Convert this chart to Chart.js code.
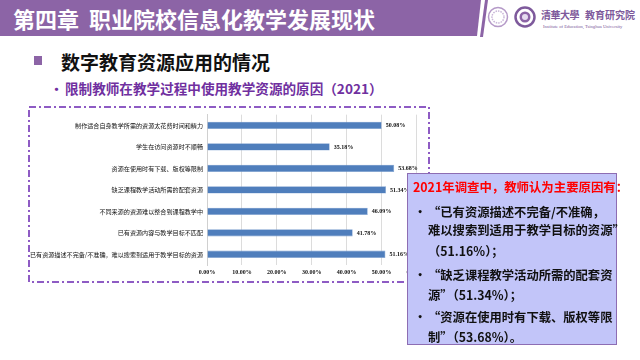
<!DOCTYPE html>
<html><head><meta charset="utf-8">
<script src="https://cdn.jsdelivr.net/npm/chart.js@4/dist/chart.umd.min.js"></script>
<style>
html,body{margin:0;padding:0;background:#fff;}
#page{position:relative;width:640px;height:360px;overflow:hidden;background:#fff;font-family:"Noto Sans CJK SC","Noto Sans",sans-serif;}
.abs{position:absolute;white-space:nowrap;}
#chartWrap{position:absolute;left:30px;top:107px;width:400px;height:175px;}
#box{position:absolute;left:407px;top:173px;width:210px;height:172px;background:#C2C5F9;border:1px solid #8D6DB3;box-sizing:border-box;}
.bl{position:absolute;font-weight:700;font-size:12.3px;color:#111;line-height:16px;white-space:nowrap;}
</style></head>
<body><div id="page">
<svg class="abs" style="left:0;top:0" width="640" height="360">
  <polygon points="0,0 481,0 477,36 0,36" fill="#8C64A6"/>
  <polygon points="485,0 488,0 483,37 480,37" fill="#8C64A6"/>
  <circle cx="498" cy="17" r="9.5" fill="#fff" stroke="#B59AC8" stroke-width="1.5"/>
  <circle cx="498" cy="17" r="6" fill="none" stroke="#C9B6D8" stroke-width="1.5" stroke-dasharray="1.5 1"/>
  <circle cx="525" cy="17" r="9.5" fill="#fff" stroke="#7E5A9C" stroke-width="2.5"/>
  <circle cx="525" cy="17" r="5.5" fill="#8C64A6"/>
  <circle cx="525" cy="17" r="3" fill="#E6DCF0"/>
  <rect x="29" y="107" width="400" height="175" fill="none" stroke="#8E5BC4" stroke-width="2" stroke-dasharray="7 3 2 3"/>
  <rect x="34" y="56" width="8" height="9" fill="#8C64A6"/>
</svg>
<div class="abs" style="left:13px;top:3px;font-size:22px;font-weight:700;color:#fff;line-height:30px;">第四章&nbsp;&nbsp;职业院校信息化教学发展现状</div>
<div class="abs" style="left:541px;top:8px;font-size:10px;font-weight:700;color:#7E5A9C;line-height:14px;letter-spacing:-0.5px;">清華大學</div>
<div class="abs" style="left:585px;top:8px;font-size:10px;font-weight:700;color:#7E5A9C;line-height:14px;">教育研究院</div>
<div class="abs" style="left:543px;top:24px;font-size:4.6px;color:#7E5A9C;line-height:6px;font-family:'Liberation Serif';">Institute of Education, Tsinghua University</div>
<div class="abs" style="left:61px;top:49px;font-size:19px;font-weight:700;color:#111;line-height:26px;">数字教育资源应用的情况</div>
<div class="abs" style="left:50px;top:80px;font-size:13px;font-weight:700;color:#7030A0;line-height:18px;">•</div>
<div class="abs" style="left:65px;top:79px;font-size:13.6px;font-weight:700;color:#7030A0;line-height:18px;">限制教师在教学过程中使用教学资源的原因（2021）</div>
<div id="chartWrap"><canvas id="c"></canvas></div>
<div id="box"></div>
<div class="bl" style="left:413px;top:179px;color:#FF0000;font-size:12.4px;">2021年调查中，教师认为主要原因有：</div>
<div class="bl" style="left:414px;top:204px;">•</div>
<div class="bl" style="left:428px;top:204px;">“已有资源描述不完备/不准确，</div>
<div class="bl" style="left:428px;top:222px;">难以搜索到适用于教学目标的资源”</div>
<div class="bl" style="left:428px;top:243px;">（51.16%）；</div>
<div class="bl" style="left:414px;top:267px;">•</div>
<div class="bl" style="left:428px;top:267px;">“缺乏课程教学活动所需的配套资</div>
<div class="bl" style="left:428px;top:287px;">源”（51.34%）；</div>
<div class="bl" style="left:414px;top:309px;">•</div>
<div class="bl" style="left:428px;top:309px;">“资源在使用时有下载、版权等限</div>
<div class="bl" style="left:428px;top:329px;">制”（53.68%）。</div>
</div>
<script>
const categories = [
  "制作适合自身教学所需的资源太花费时间和精力",
  "学生在访问资源时不顺畅",
  "资源在使用时有下载、版权等限制",
  "缺乏课程教学活动所需的配套资源",
  "不同来源的资源难以整合到课程教学中",
  "已有资源内容与教学目标不匹配",
  "已有资源描述不完备/不准确，难以搜索到适用于教学目标的资源"
];
const values = [50.08, 35.18, 53.68, 51.34, 46.09, 41.78, 51.16];
const xTicks = [0, 10, 20, 30, 40, 50, 60];

const dataLabels = {
  id: 'dataLabels',
  afterDatasetsDraw(chart) {
    const ctx = chart.ctx;
    const meta = chart.getDatasetMeta(0);
    ctx.save();
    ctx.font = 'bold 6px "Liberation Serif"';
    ctx.fillStyle = '#111';
    ctx.textAlign = 'left';
    ctx.textBaseline = 'middle';
    meta.data.forEach((bar, i) => {
      ctx.fillText(values[i].toFixed(2) + '%', bar.x + 4, bar.y + 0.5);
    });
    ctx.restore();
  }
};

new Chart(document.getElementById('c'), {
  type: 'bar',
  data: {
    labels: categories,
    datasets: [{
      data: values,
      backgroundColor: '#4F7EBC',
      borderColor: '#7FA2D1',
      borderWidth: 0.6,
      categoryPercentage: 1,
      barPercentage: 0.34
    }]
  },
  options: {
    indexAxis: 'y',
    responsive: true,
    maintainAspectRatio: false,
    animation: false,
    layout: { padding: { top: 5, right: 4, bottom: 0, left: 0 } },
    plugins: { legend: { display: false }, tooltip: { enabled: false } },
    scales: {
      x: {
        min: 0, max: 60,
        afterBuildTicks(scale) { scale.ticks = xTicks.map(v => ({ value: v })); },
        afterFit(scale) { scale.height = 17; },
        ticks: {
          callback: v => v.toFixed(2) + '%',
          font: { family: '"Liberation Serif"', size: 6, weight: 'bold' },
          color: '#111',
          padding: 4,
          maxRotation: 0
        },
        grid: { color: '#DCDCDC', lineWidth: 1, drawTicks: false },
        border: { display: false }
      },
      y: {
        afterFit(scale) { scale.width = 177; },
        ticks: {
          font: { family: '"Noto Sans CJK SC"', size: 6.1 },
          color: '#111',
          padding: 4
        },
        grid: { display: false, drawTicks: false },
        border: { display: true, color: '#D0D0D0', width: 1 }
      }
    }
  },
  plugins: [dataLabels]
});
</script>
</body></html>
